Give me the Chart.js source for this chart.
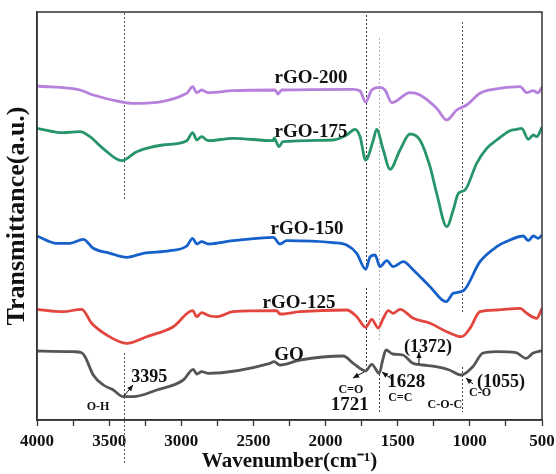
<!DOCTYPE html>
<html>
<head>
<meta charset="utf-8">
<script src="https://cdn.jsdelivr.net/npm/chart.js@4.4.1/dist/chart.umd.min.js"></script>
<style>
html,body{margin:0;padding:0;background:#fff;}
#wrap{width:556px;height:474px;position:relative;}
</style>
</head>
<body>
<div id="wrap"><canvas id="c" width="556" height="474"></canvas></div>
<script>
// ---- data (wavenumber cm-1, transmittance a.u.) ----
const xTickLabels = [4000, 3500, 3000, 2500, 2000, 1500, 1000, 500];

const rgo200Wn = [4000,3702,3610,3413,3344,2962,2921,2893,2859,2813,2642,2350,2330,2304,1810,1761,1722,1680,1623,1588,1541,1415,1346,1230,1160,1091,1022,930,840,652,606,562,528,500];
const rgo200T  = [334,330,325,318,316.7,326.7,333.3,327.3,330,327.3,329.3,330,326,330,330.7,329,318,330,332.7,330,317.3,327.3,325,311.7,300,310,315,326.7,330.7,333.3,327.3,329.3,327.3,332.7];

const rgo175Wn = [4000,3820,3702,3633,3543,3413,3309,3127,2962,2921,2893,2859,2813,2642,2362,2357,2323,2295,1949,1854,1796,1761,1722,1669,1646,1600,1553,1484,1415,1346,1276,1230,1160,1115,1080,1034,953,883,814,722,675,641,595,560,537,500];
const rgo175T  = [291.7,287.3,288.3,283.3,271.7,259.3,268.3,275,279.3,287.3,280,283.3,279.3,281.7,279.3,282,273.3,278.3,280,285,290.7,283.3,260,280,290.7,270,250.7,270,286,280,253.3,226.7,193.3,210,226.7,230,256.7,271.7,280,289.3,290.7,291.7,280.7,285,283.3,292.7];

const rgo150Wn = [4000,3863,3771,3679,3610,3494,3378,3263,3078,2962,2921,2893,2859,2813,2642,2362,2316,2270,1949,1854,1784,1722,1691,1657,1623,1576,1531,1461,1392,1276,1165,1115,1045,930,814,722,629,595,560,526,500];
const rgo150T  = [184,176.7,176.7,180.7,171.7,166.7,162.7,166.7,169.3,174,181.7,176,178.3,176,179.3,182.7,176,179.3,177.3,175,166.7,150.7,163.3,165,153.3,159.3,153.3,158.3,150,133.3,118.3,126.7,129.3,158.3,173.3,180,184,179.3,184,181.7,185];

const rgo125Wn = [4000,3820,3690,3621,3517,3378,3240,3055,2921,2893,2859,2801,2755,2642,2339,2316,2177,1854,1784,1722,1680,1635,1600,1565,1531,1484,1392,1276,1160,1057,999,930,814,652,606,537,500];
const rgo125T  = [110.7,108.3,110.7,96.7,85,76.7,83.3,93.3,109.3,103.3,107.3,104,103.3,108.3,109.3,106,108.3,110,103.3,92.7,100.7,92,101.7,109.3,106.7,110.7,101.7,96.7,88.3,83.3,91.7,108.3,110,111.7,106.7,101.7,111.7];

const goWn = [4000,3748,3690,3667,3610,3540,3471,3402,3333,3170,2986,2917,2893,2859,2813,2385,2357,2316,2177,1877,1808,1722,1680,1628,1604,1581,1535,1465,1396,1327,1235,1142,1061,980,911,819,680,611,564,500];
const goT  = [69,68.3,67.3,63.3,45,35,30,23.3,23.3,30,40,50.7,46,48.3,46.7,56.7,58.3,55,60,64,56.7,49,55.7,46.7,60,70,66,65,56.7,55,53.3,50,45,53.3,66.7,68.3,67.3,61.7,66.7,69.3];

const seriesNames = ['rGO-200','rGO-175','rGO-150','rGO-125','GO'];
const seriesColors = ['#b680dc','#27956a','#1560c9','#e2463f','#555555'];

// annotation markers
const markerWn = [3395, 1721, 1628, 1055];

function pts(xs, ys){ return xs.map((x,i)=>({x:x, y:ys[i]})); }

const seriesData = [pts(rgo200Wn,rgo200T), pts(rgo175Wn,rgo175T), pts(rgo150Wn,rgo150T), pts(rgo125Wn,rgo125T), pts(goWn,goT)];

const SERIF = '"Liberation Serif", "Times New Roman", serif';

// dashed guide segments: [wavenumber, yTop(px), yBottom(px), color]
const guideSegs = [
  [markerWn[0], 13, 200, '#555'], [markerWn[0], 353, 465, '#555'],
  [markerWn[1], 15, 267, '#333'], [markerWn[1], 288, 370, '#333'],
  [markerWn[2], 38, 340, '#b5b5b5'], [markerWn[2], 370, 413, '#444'],
  [markerWn[3], 22, 312, '#555'], [markerWn[3], 367, 412, '#444']
];

const overlay = {
  id:'overlay',
  beforeDatasetsDraw(chart){
    const ctx = chart.ctx, xs = chart.scales.x;
    ctx.save();
    ctx.lineWidth = 1;
    ctx.setLineDash([2,2]);
    guideSegs.forEach(s=>{
      const x = Math.round(xs.getPixelForValue(s[0])) + 0.5;
      ctx.strokeStyle = s[3];
      ctx.beginPath(); ctx.moveTo(x, s[1]); ctx.lineTo(x, s[2]); ctx.stroke();
    });
    ctx.restore();
  },
  afterDraw(chart){
    const ctx = chart.ctx, a = chart.chartArea, xs = chart.scales.x;
    ctx.save();
    // frame
    ctx.strokeStyle = '#333'; ctx.lineWidth = 1.5;
    ctx.strokeRect(a.left, a.top, a.right - a.left, a.bottom - a.top);
    // labels
    ctx.fillStyle = '#111';
    ctx.textBaseline = 'middle';
    ctx.textAlign = 'center';
    const txt = (s, x, y, size, bold=true) => {
      ctx.font = (bold?'bold ':'') + size + 'px ' + SERIF;
      ctx.fillText(s, x, y);
    };
    const px = w => xs.getPixelForValue(w);
    txt(seriesNames[0], 311, 78, 19);
    txt(seriesNames[1], 311, 132, 19);
    txt(seriesNames[2], 307, 229, 19);
    txt(seriesNames[3], 299, 303, 19);
    txt(seriesNames[4], 289, 355, 19);
    txt(String(markerWn[0]), px(markerWn[0]) + 25, 377, 18);
    txt('O-H', 98, 407, 12);
    txt('C=O', px(markerWn[1]) - 15, 390, 12);
    txt(String(markerWn[1]), px(markerWn[1]) - 16, 405, 19);
    txt(String(markerWn[2]), px(markerWn[2]) + 27, 382, 19);
    txt('C=C', px(markerWn[2]) + 21, 398, 12);
    txt('(1372)', 428, 347, 18);
    txt('C-O-C', px(markerWn[3]) - 17, 405, 12);
    txt('(' + markerWn[3] + ')', 501, 382, 18);
    txt('C-O', 480, 393, 12);
    // arrows
    const arrow = (x1,y1,x2,y2) => {
      ctx.strokeStyle = '#111'; ctx.fillStyle = '#111'; ctx.lineWidth = 1;
      ctx.setLineDash([]);
      ctx.beginPath(); ctx.moveTo(x1,y1); ctx.lineTo(x2,y2); ctx.stroke();
      const ang = Math.atan2(y2-y1, x2-x1), L = 6, W = 2.6;
      ctx.beginPath();
      ctx.moveTo(x2,y2);
      ctx.lineTo(x2 - L*Math.cos(ang) + W*Math.sin(ang), y2 - L*Math.sin(ang) - W*Math.cos(ang));
      ctx.lineTo(x2 - L*Math.cos(ang) - W*Math.sin(ang), y2 - L*Math.sin(ang) + W*Math.cos(ang));
      ctx.closePath(); ctx.fill();
    };
    arrow(124, 396, 133, 385);
    arrow(364, 372, 353, 378);
    arrow(393, 380, 382, 372);
    arrow(419, 364, 419, 352);
    arrow(473, 384, 466, 378);
    ctx.restore();
  }
};

new Chart(document.getElementById('c'), {
  type:'line',
  data:{
    datasets: seriesData.map((d,i)=>({
      label: seriesNames[i], data: d,
      borderColor: seriesColors[i], backgroundColor: seriesColors[i],
      borderWidth: 2.8, pointRadius: 0, cubicInterpolationMode:'monotone', fill:false
    }))
  },
  options:{
    responsive:false, animation:false,
    layout:{padding:{top:12, right:14, left:0, bottom:0}},
    plugins:{legend:{display:false}, tooltip:{enabled:false}},
    scales:{
      x:{
        type:'linear', reverse:true, min:500, max:4000,
        afterBuildTicks(s){ s.ticks = []; for(let v=4000; v>=500; v-=250) s.ticks.push({value:v}); },
        ticks:{
          autoSkip:false, maxRotation:0, padding:5, color:'#111',
          font:{family:SERIF, size:17, weight:'bold'},
          callback:(v)=> xTickLabels.includes(v) ? String(v) : ''
        },
        grid:{display:true, drawOnChartArea:false, drawTicks:true, tickLength:6, tickColor:'#333', tickWidth:1.3},
        border:{display:true, color:'#333', width:1.5},
        title:{display:true, text:'Wavenumber(cm\u207B\u00B9)', color:'#111',
               font:{family:SERIF, size:21, weight:'bold'}, padding:{top:0,bottom:0}},
        afterFit(s){ s.height = 54; s.paddingRight = 0; s.paddingLeft = 0; }
      },
      y:{
        min:0, max:408,
        ticks:{display:false},
        grid:{display:false, drawTicks:false},
        border:{display:true, color:'#333', width:1.5},
        title:{display:true, text:'Transmittance(a.u.)', color:'#111',
               font:{family:SERIF, size:26, weight:'bold'}, padding:{top:2,bottom:0}},
        afterFit(s){ s.width = 37; s.paddingTop = 0; s.paddingBottom = 0; }
      }
    }
  },
  plugins:[overlay]
});
</script>
</body>
</html>
